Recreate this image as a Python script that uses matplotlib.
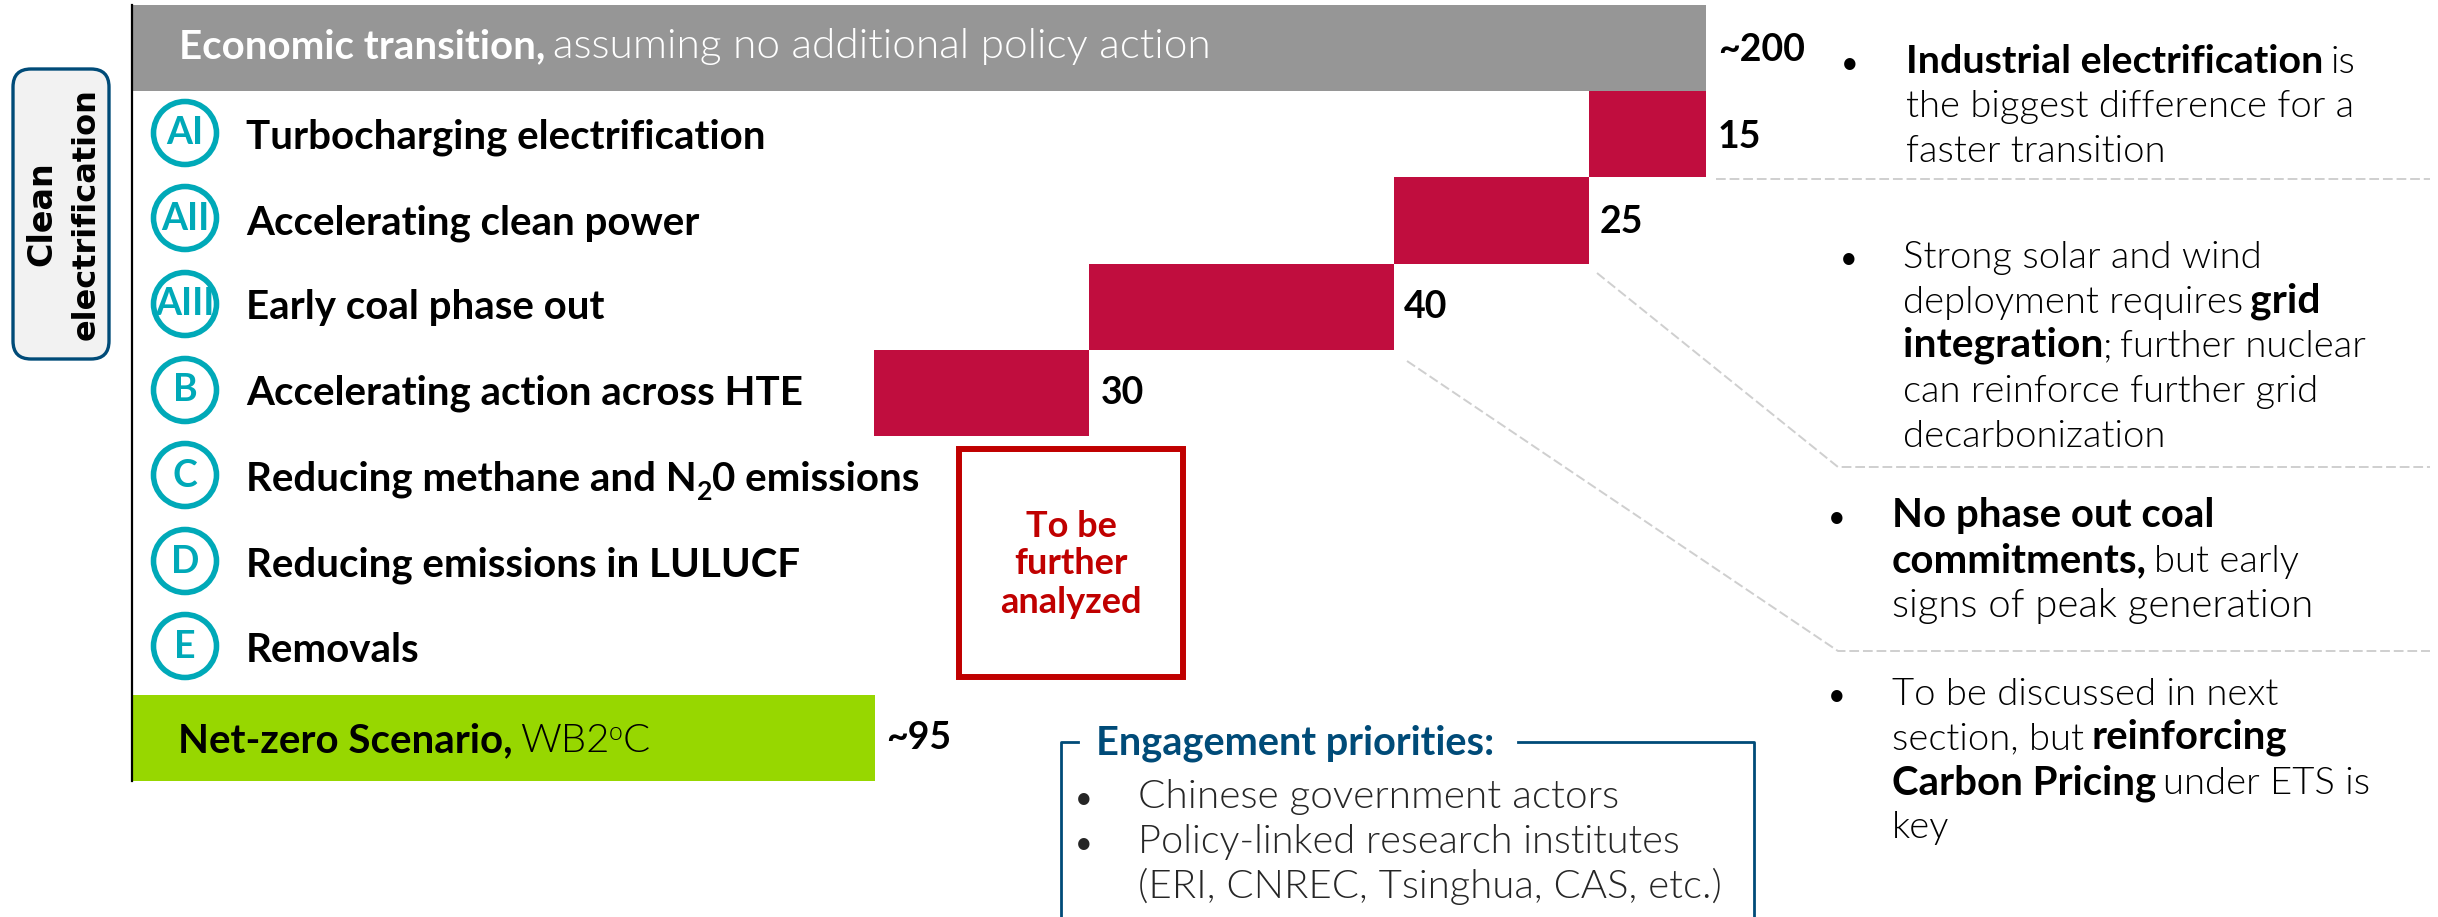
import matplotlib
matplotlib.use("Agg")
import matplotlib.pyplot as plt
from matplotlib.patches import Circle, FancyBboxPatch, Rectangle

W, H = 2438, 917
FONT = "Lato"
plt.rcParams["font.family"] = [FONT, "DejaVu Sans"]

# wiersze wykresu, od gory
total_width = 200
red_names = ["AI", "AII", "AIII", "B"]
red_widths = [14.9, 24.7, 38.8, 27.3]
red_labels = ["15", "25", "40", "30"]
green_width = 94.4

row_codes = ["AI", "AII", "AIII", "B", "C", "D", "E"]
row_titles = [
    "Turbocharging electrification",
    "Accelerating clean power",
    "Early coal phase out",
    "Accelerating action across HTE",
    None,
    "Reducing emissions in LULUCF",
    "Removals",
]

GRAY = "#969696"
RED = "#C00D3E"
GREEN = "#97D700"
TEAL = "#00A9B8"
NAVY = "#004B78"
BOX_RED = "#C00000"
DASH = "#CFCFCF"
SIZE = 27.5
ROW_SIZE = 29
B = 1.07  # pogrubiony tekst jest w oryginale szerszy

fig = plt.figure(figsize=(W / 100, H / 100), dpi=100)

# slupki w skali wykresu
ax = fig.add_axes([132 / W, 1 - 781 / H, (1706 - 132) / W, 776 / H])
ax.set_xlim(0, total_width)
ax.set_ylim(8.5, -0.5)
ax.barh(0, total_width, height=1, color=GRAY)
left = total_width
for i, w in enumerate(red_widths):
    left -= w
    ax.barh(i + 1, w, left=left, height=1, color=RED)
ax.barh(8, green_width, height=1, color=GREEN)
ax.set_xticks([])
ax.set_yticks([])
for side in ["top", "right", "bottom"]:
    ax.spines[side].set_visible(False)
ax.spines["left"].set_linewidth(1.6)
ax.spines["left"].set_color("black")

# warstwa na opisy, jednostki to piksele
ov = fig.add_axes([0, 0, 1, 1])
ov.set_xlim(0, W)
ov.set_ylim(H, 0)
ov.axis("off")
ov.patch.set_alpha(0)
renderer = fig.canvas.get_renderer()

PART_DEFAULTS = ("", False, 1, 0, 0.26)


def rich(x, y, parts, size=SIZE, color="black"):
    # czesc: tekst, pogrubienie, skala, przesuniecie w pionie, odstep po tekscie
    for part in parts:
        text, bold, scale, dy, gap = part + PART_DEFAULTS[len(part):]
        t = ov.text(x, y + dy, text, fontsize=size * scale, color=color,
                    fontweight="bold" if bold else 300, va="baseline", ha="left")
        x = t.get_window_extent(renderer).x1 + gap * size
    return x


def bullets(x_b, x_t, lines, size=SIZE, color="black"):
    ov.text(x_b, lines[0][0], "•", fontsize=size * 0.8, color=color, ha="center", va="baseline")
    for y, parts in lines:
        rich(x_t, y, parts, size=size, color=color)


# ramka z lewej
ov.add_patch(FancyBboxPatch((13 + 16, 69 + 16), 96 - 32, 290 - 32, boxstyle="round,pad=16,rounding_size=18",
                            fc="#F2F2F2", ec=NAVY, lw=2.4))
ov.text(42, 214, "Clean", rotation=90, fontsize=24, fontweight="bold", family="DejaVu Sans",
        ha="center", va="center")
ov.text(86, 214, "electrification", rotation=90, fontsize=23, fontweight="bold", family="DejaVu Sans",
        ha="center", va="center")

# naglowek i dolny pasek
rich(179, 58, [("Economic transition,", True, 29 / SIZE),
               ("assuming no additional policy action", False, 30.5 / SIZE)], color="white")
rich(178, 752, [("Net-zero Scenario,", True, 29 / SIZE), ("WB2", False, 1.05, 0, 0),
                ("o", False, 0.65, -12, 0), ("C", False, 1.05)])

# kolka i nazwy wierszy
circle_y = [133, 218, 304, 390, 475, 561, 646]
base_y = [147, 233, 318, 404, 490, 576, 661]
for code, title, cy, by in zip(row_codes, row_titles, circle_y, base_y):
    ov.add_patch(Circle((185, cy), 31.5, fc="white", ec=TEAL, lw=4))
    ov.text(185, by - 3, code, fontsize=27, fontweight="bold", color=TEAL, ha="center", va="baseline")
    if title:
        ov.text(246, by + 1, title, fontsize=ROW_SIZE, fontweight="bold", va="baseline")
rich(246, 491, [("Reducing methane and N", True, ROW_SIZE / SIZE, 0, 0), ("2", True, 0.7, 9, 0),
                ("0 emissions", True, ROW_SIZE / SIZE)])

# etykiety wartosci
ov.text(1718, 61, "~200", fontsize=27, fontweight="bold", va="baseline")
for lab, x, y in zip(red_labels, [1718, 1600, 1404, 1101], [148, 233, 318, 404]):
    ov.text(x, y, lab, fontsize=27, fontweight="bold", va="baseline")
ov.text(886, 749, "~95", fontsize=27, fontweight="bold", va="baseline")

# ramka "To be further analyzed"
ov.add_patch(Rectangle((959, 449), 224, 228, fc="none", ec=BOX_RED, lw=4.3))
for txt, y in zip(["To be", "further", "analyzed"], [537, 574, 613]):
    ov.text(1071, y, txt, fontsize=26, fontweight="bold", color=BOX_RED, ha="center", va="baseline")

# przerywane linie laczace
ov.plot([1716, 2430], [179, 179], color=DASH, lw=1.4, ls=(0, (5, 2)))
ov.plot([1597, 1838, 2430], [273, 467, 467], color=DASH, lw=1.4, ls=(0, (5, 2)))
ov.plot([1407, 1838, 2430], [361, 651, 651], color=DASH, lw=1.4, ls=(0, (5, 2)))

# komentarze po prawej
bullets(1850, 1906, [
    (73, [("Industrial electrification", True, 1.03), ("is", False)]),
    (117, [("the biggest difference for a", False)]),
    (162, [("faster transition", False)]),
])
bullets(1849, 1903, [
    (268, [("Strong solar and wind", False)]),
    (313, [("deployment requires", False), ("grid", True, B)]),
    (357, [("integration", True, B, 0, 0), (";", False), ("further nuclear", False)]),
    (402, [("can reinforce further grid", False)]),
    (447, [("decarbonization", False)]),
])
bullets(1837, 1892, [
    (527, [("No phase out coal", True, 1.05)]),
    (572, [("commitments,", True, 1.05), ("but early", False)]),
    (617, [("signs of peak generation", False, 1.05)]),
])
bullets(1837, 1892, [
    (705, [("To be discussed in next", False)]),
    (749, [("section, but", False), ("reinforcing", True, 1.05)]),
    (794, [("Carbon Pricing", True, 1.05), ("under ETS is", False)]),
    (838, [("key", False)]),
])

# ramka "Engagement priorities"
ov.plot([1078, 1061, 1061], [742, 742, 917], color=NAVY, lw=2)
ov.plot([1518, 1754, 1754], [742, 742, 917], color=NAVY, lw=2)
ov.text(1096, 755, "Engagement priorities:", fontsize=28.6, fontweight="bold", color=NAVY, va="baseline")
bullets(1084, 1138, [(808, [("Chinese government actors", False, 1.06)])], color="#262626")
bullets(1084, 1138, [
    (853, [("Policy-linked research institutes", False, 1.04)]),
    (898, [("(ERI, CNREC, Tsinghua, CAS, etc.)", False, 1.05)]),
], color="#262626")

fig.savefig("out.png", dpi=100)
